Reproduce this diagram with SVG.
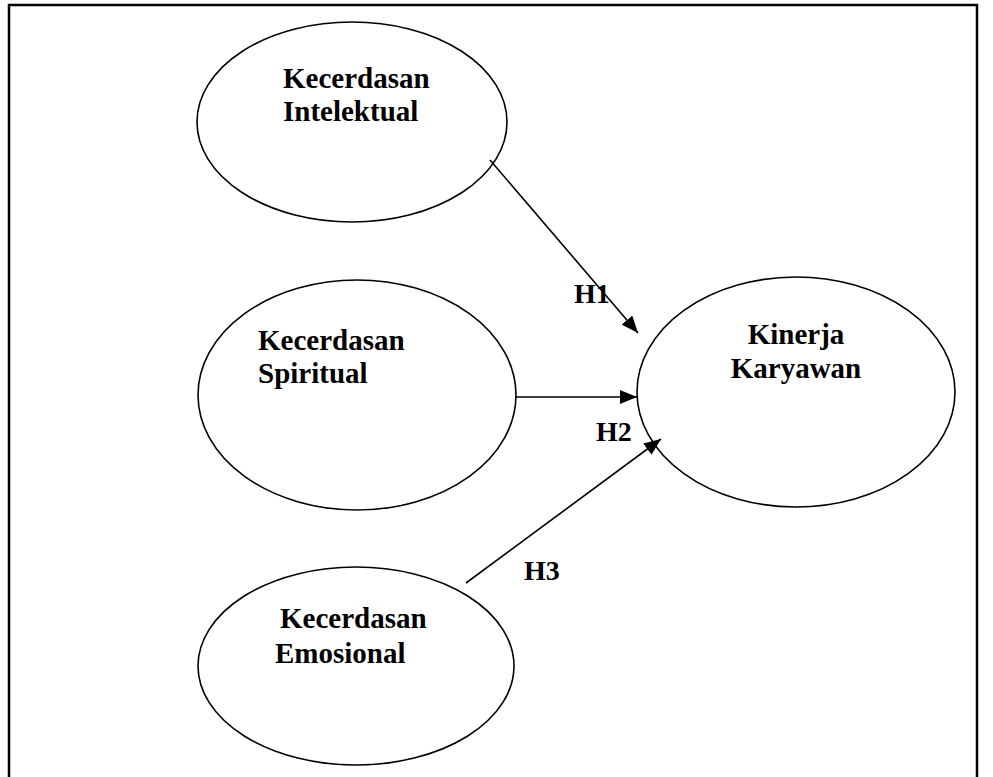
<svg xmlns="http://www.w3.org/2000/svg" width="993" height="777" viewBox="0 0 993 777">
  <defs>
    <marker id="arrow" markerUnits="userSpaceOnUse" markerWidth="18" markerHeight="14" refX="17" refY="7" orient="auto">
      <path d="M0,0 L17,7 L0,14 Z" fill="#000"/>
    </marker>
    <style>
      .node ellipse { fill: #fff; stroke: #000; stroke-width: 1.6; }
      .label { font-family: "Liberation Serif", "Times New Roman", serif; font-weight: bold; font-size: 29px; fill: #000; }
      .hlabel { font-family: "Liberation Serif", "Times New Roman", serif; font-weight: bold; font-size: 28px; fill: #000; }
      .edge { stroke: #000; stroke-width: 1.6; fill: none; marker-end: url(#arrow); }
    </style>
  </defs>
  <rect width="993" height="777" fill="#fff"/>
  <path d="M9,780 L9,5 L977,5 L977,780" fill="none" stroke="#000" stroke-width="2.5"/>

  <g id="node-intelektual" class="node">
    <ellipse cx="352" cy="122" rx="155" ry="100"/>
    <text class="label" x="283" y="88">Kecerdasan</text>
    <text class="label" x="283" y="121">Intelektual</text>
  </g>
  <g id="node-spiritual" class="node">
    <ellipse cx="357" cy="395" rx="159" ry="115"/>
    <text class="label" x="258" y="350">Kecerdasan</text>
    <text class="label" x="258" y="383">Spiritual</text>
  </g>
  <g id="node-emosional" class="node">
    <ellipse cx="356" cy="666" rx="158" ry="99"/>
    <text class="label" x="280" y="628">Kecerdasan</text>
    <text class="label" x="275" y="663">Emosional</text>
  </g>
  <g id="node-kinerja" class="node">
    <ellipse cx="796" cy="392" rx="159" ry="115"/>
    <text class="label" x="796" y="344" text-anchor="middle">Kinerja</text>
    <text class="label" x="796" y="378" text-anchor="middle">Karyawan</text>
  </g>

  <g id="connectors">
    <line class="edge" x1="490" y1="160" x2="638" y2="333"/>
    <line class="edge" x1="515" y1="397" x2="637" y2="397"/>
    <line class="edge" x1="466" y1="583" x2="661" y2="439"/>
    <text class="hlabel" x="574" y="303">H1</text>
    <text class="hlabel" x="596" y="441">H2</text>
    <text class="hlabel" x="524" y="580">H3</text>
  </g>
</svg>
